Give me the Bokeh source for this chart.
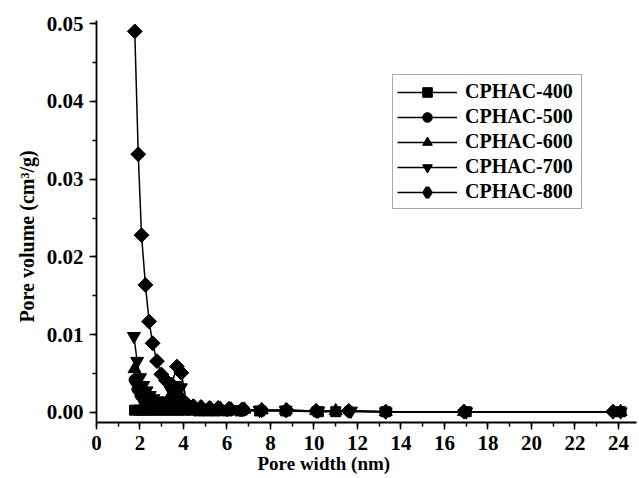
import numpy as np
from bokeh.plotting import figure
from bokeh.models import Range1d, FixedTicker, NumeralTickFormatter, Legend, LegendItem, Title
from bokeh.embed import file_html
from bokeh.resources import INLINE

series_names = ["CPHAC-400", "CPHAC-500", "CPHAC-600", "CPHAC-700", "CPHAC-800"]

x400 = [1.75, 1.95, 2.15, 2.35, 2.55, 2.8, 3.05, 3.3, 3.55, 3.8, 4.05, 4.35, 4.7, 5.1, 5.5, 6.0, 6.6, 7.5, 8.7, 10.2, 11.0, 13.3, 17.0, 24.1]
y400 = [0.0003, 0.0003, 0.0003, 0.0003, 0.0003, 0.0003, 0.0003, 0.0003, 0.0003, 0.0003, 0.0003, 0.0003, 0.0002, 0.0002, 0.0002, 0.0002, 0.0002, 0.0002, 0.0002, 0.0001, 0.0001, 0.0001, 0.0001, 0.0001]

x500 = [1.75, 1.88, 2.02, 2.17, 2.32, 2.48, 2.65, 2.83, 3.03, 3.24, 3.46, 3.7, 3.93, 4.2, 4.5, 4.85, 5.25, 5.7, 6.2, 6.8, 7.6, 8.7, 10.1, 11.6, 13.3, 16.9, 24.1]
y500 = [0.0042, 0.0030, 0.0022, 0.0016, 0.0013, 0.0011, 0.0009, 0.0008, 0.0008, 0.0009, 0.0014, 0.0016, 0.0012, 0.0006, 0.0005, 0.0005, 0.0004, 0.0004, 0.0003, 0.0003, 0.0003, 0.0002, 0.0002, 0.0002, 0.0001, 0.0001, 0.0001]

x600 = [1.75, 1.88, 2.02, 2.17, 2.32, 2.48, 2.65, 2.83, 3.03, 3.24, 3.46, 3.7, 3.93, 4.2, 4.5, 4.85, 5.25, 5.7, 6.2, 6.8, 7.6, 8.7, 10.1, 11.0, 13.3, 16.9, 24.1]
y600 = [0.0056, 0.0040, 0.0029, 0.0022, 0.0017, 0.0014, 0.0012, 0.0011, 0.0011, 0.0014, 0.0024, 0.0026, 0.0018, 0.0008, 0.0007, 0.0006, 0.0005, 0.0005, 0.0004, 0.0004, 0.0003, 0.0003, 0.0002, 0.0002, 0.0001, 0.0001, 0.0001]

x700 = [1.72, 1.87, 2.0, 2.15, 2.3, 2.45, 2.62, 2.8, 3.0, 3.2, 3.42, 3.65, 3.88, 4.1, 4.4, 4.75, 5.1, 5.5, 6.0, 6.6, 7.5, 8.7, 10.2, 11.7, 13.3, 17.0, 24.1]
y700 = [0.0098, 0.0066, 0.0045, 0.0035, 0.0028, 0.0022, 0.0018, 0.0015, 0.0013, 0.0015, 0.0028, 0.0035, 0.0032, 0.0009, 0.0007, 0.0006, 0.0005, 0.0005, 0.0004, 0.0004, 0.0003, 0.0003, 0.0002, 0.0002, 0.0001, 0.0001, 0.0001]

x800 = [1.76, 1.92, 2.07, 2.25, 2.42, 2.58, 2.78, 2.98, 3.2, 3.45, 3.7, 3.9, 4.15, 4.45, 4.8, 5.2, 5.6, 6.1, 6.7, 7.6, 8.75, 10.1, 11.6, 13.3, 16.9, 23.75]
y800 = [0.049, 0.0332, 0.0228, 0.0164, 0.0117, 0.0089, 0.0066, 0.0049, 0.0041, 0.0036, 0.0059, 0.0051, 0.0011, 0.0008, 0.0007, 0.0006, 0.0006, 0.0005, 0.0004, 0.0003, 0.0003, 0.0002, 0.0002, 0.0001, 0.0001, 0.0001]

x_ticks = list(range(0, 25, 2))
y_ticks = [0.0, 0.01, 0.02, 0.03, 0.04, 0.05]
x_title = "Pore width (nm)"
y_title = "Pore volume (cm³/g)"

FONT = "Liberation Serif"

p = figure(width=639, height=478, output_backend="svg", toolbar_location=None,
           x_range=Range1d(0, 24.83), y_range=Range1d(-0.00129, 0.0504),
           min_border_left=96, min_border_right=3, min_border_top=20, min_border_bottom=56)
p.outline_line_color = None
p.xgrid.visible = False
p.ygrid.visible = False

data = [(x400, y400, "square", 10), (x500, y500, "circle", 11),
        (x600, y600, "triangle", 13), (x700, y700, "inverted_triangle", 13)]

items = []
for name, (xs, ys, mk, sz) in zip(series_names[:4], data):
    l = p.line(xs, ys, line_color="black", line_width=1.5)
    s = p.scatter(xs, ys, marker=mk, size=sz, fill_color="black", line_color="black")
    items.append(LegendItem(label=name, renderers=[l, s]))

l8 = p.line(x800, y800, line_color="black", line_width=1.5)
p.scatter(x800, y800, marker="square", size=10.5, angle=np.pi / 4, fill_color="black", line_color="black")
d8 = p.scatter(x800, y800, marker="diamond", size=9, fill_color="black", line_color="black", line_width=4)
items.append(LegendItem(label=series_names[4], renderers=[l8, d8]))

legend = Legend(items=items, location=(296, 213), label_text_font=FONT,
                label_text_font_style="bold", label_text_font_size="20px", label_text_color="black",
                glyph_width=60, glyph_height=24, label_height=25, label_width=112, spacing=0,
                padding=4, margin=0, label_standoff=8,
                border_line_color="#555555", border_line_width=1)
p.add_layout(legend, "center")

for ax in (p.xaxis[0], p.yaxis[0]):
    ax.axis_line_width = 1.8
    ax.major_tick_line_width = 1.5
    ax.minor_tick_line_width = 1.5
    ax.major_tick_in = 0
    ax.major_tick_out = 7
    ax.minor_tick_in = 0
    ax.minor_tick_out = 4
    ax.major_label_text_font = FONT
    ax.major_label_text_font_style = "bold"
    ax.major_label_text_font_size = "21px"
    ax.major_label_text_color = "black"
    ax.axis_label_text_font = FONT
    ax.axis_label_text_font_style = "bold"
    ax.axis_label_text_font_size = "20px"
    ax.axis_label_text_color = "black"

p.xaxis[0].ticker = FixedTicker(ticks=x_ticks, minor_ticks=list(range(0, 25)))
p.yaxis[0].ticker = FixedTicker(ticks=y_ticks, minor_ticks=[i * 0.005 for i in range(11)])
p.yaxis[0].formatter = NumeralTickFormatter(format="0.00")
p.xaxis[0].axis_label = None
p.yaxis[0].axis_label = y_title + "\u00a0" * 6
p.xaxis[0].major_label_standoff = 6
p.yaxis[0].major_label_standoff = 6
p.yaxis[0].axis_label_standoff = 6

xt = Title(text=x_title, align="left", offset=161, standoff=-4, text_font=FONT,
           text_font_style="bold", text_font_size="19px", text_color="black")
p.add_layout(xt, "below")

open("out.html", "w").write(file_html(p, INLINE))
